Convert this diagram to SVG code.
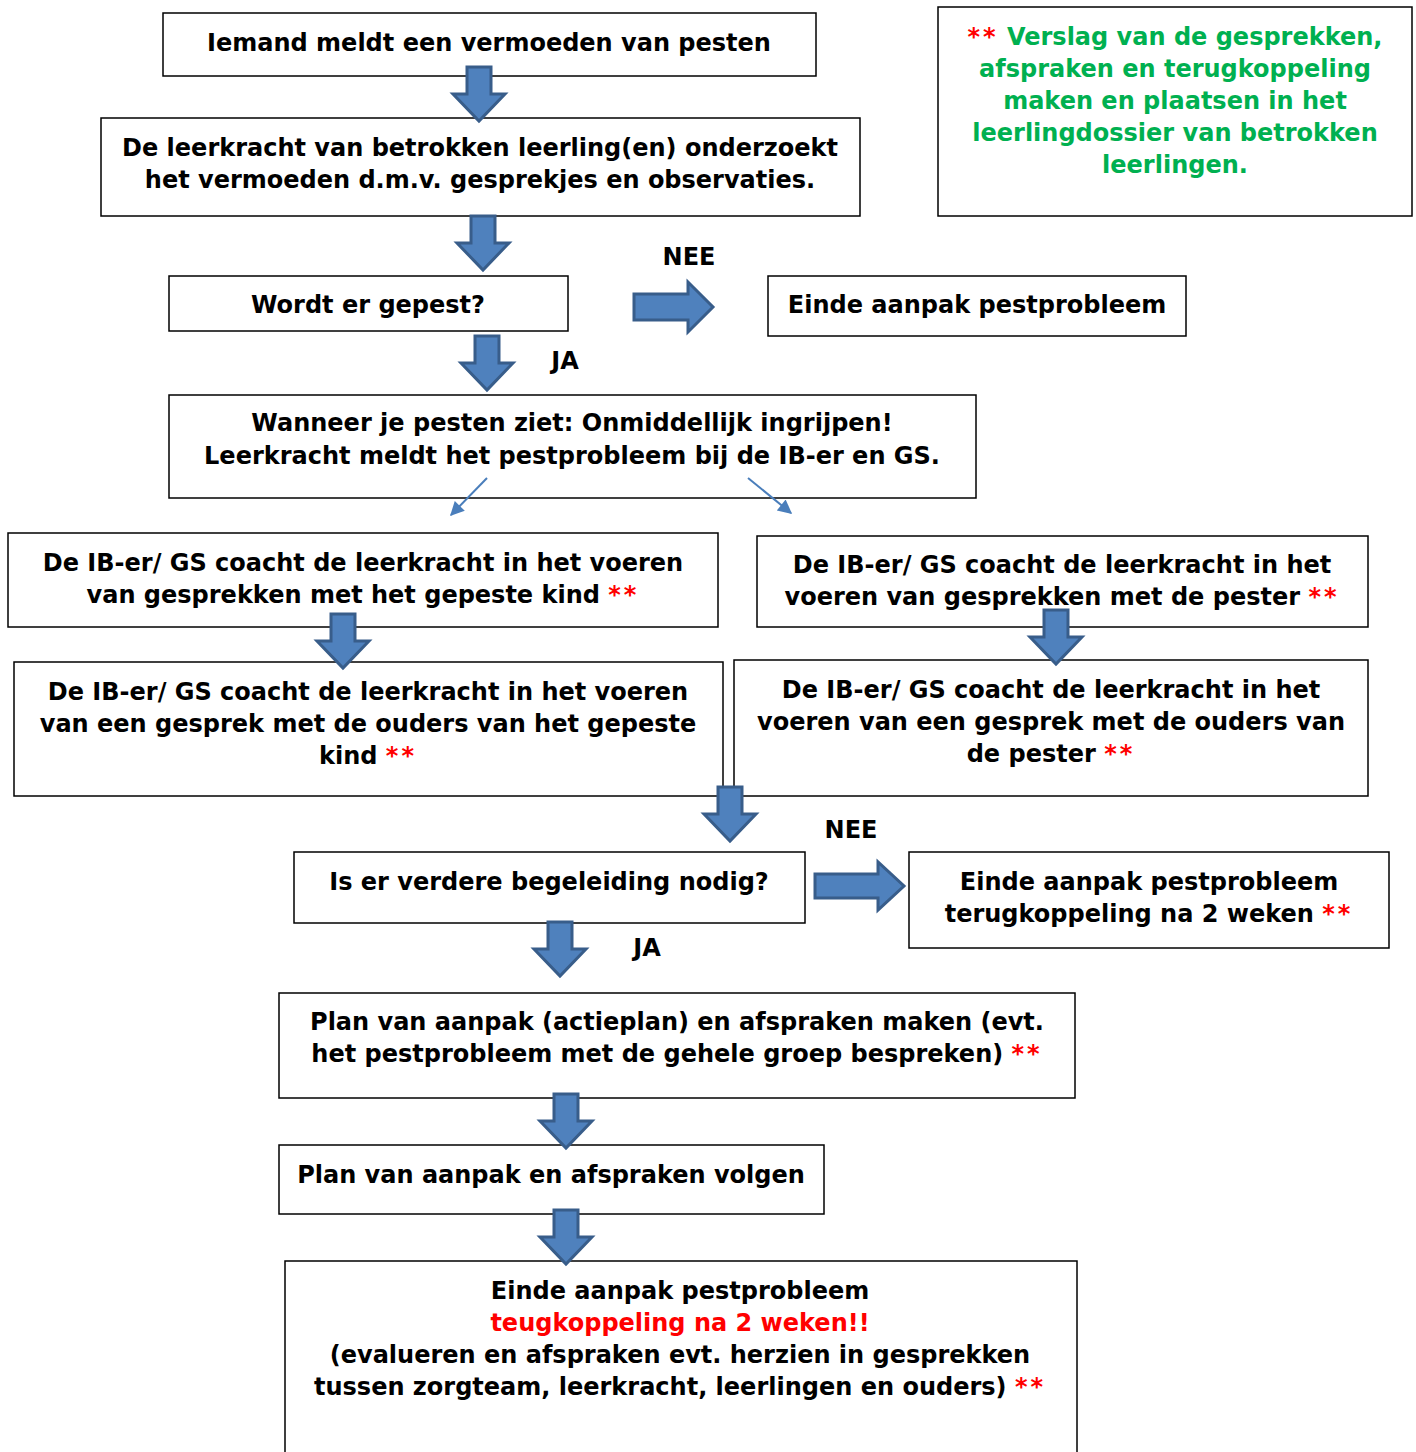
<svg xmlns="http://www.w3.org/2000/svg" xmlns:xlink="http://www.w3.org/1999/xlink" width="1416" height="1452" viewBox="0 0 1416 1452">
<style>
.box{fill:#fff;stroke:#000;stroke-width:1.5}
text{font-family:"DejaVu Sans","Verdana",sans-serif;font-weight:bold;font-size:24px;fill:#000;text-anchor:middle}
.r{fill:#FF0000}
.s{letter-spacing:3px}
.g{fill:#00B050}
.blk{fill:#4F81BD;stroke:#385D8A;stroke-width:3;stroke-linejoin:miter}
.thin{stroke:#4A7EBB;stroke-width:2;fill:none}
</style>
<defs>
<path id="dn" d="M-12,0 H12 V27 H26 L0,54 L-26,27 H-12 Z"/>
<marker id="ah" viewBox="0 0 10 10" refX="9" refY="5" markerWidth="8" markerHeight="7" orient="auto" markerUnits="strokeWidth">
<path d="M0,0 L10,5 L0,10 Z" fill="#4A7EBB"/>
</marker>
</defs>
<rect width="1416" height="1452" fill="#fff"/>

<g id="nodes">
<g id="n1"><rect class="box" x="163" y="13" width="653" height="63"/>
<text x="489" y="51">Iemand meldt een vermoeden van pesten</text></g>

<g id="note"><rect class="box" x="938" y="7" width="474" height="209"/>
<text x="1175" y="45"><tspan class="r s">**</tspan><tspan class="g"> Verslag van de gesprekken,</tspan></text>
<text class="g" x="1175" y="77">afspraken en terugkoppeling</text>
<text class="g" x="1175" y="109">maken en plaatsen in het</text>
<text class="g" x="1175" y="141">leerlingdossier van betrokken</text>
<text class="g" x="1175" y="173">leerlingen.</text></g>

<g id="n2"><rect class="box" x="101" y="118" width="759" height="98"/>
<text x="480" y="156">De leerkracht van betrokken leerling(en) onderzoekt</text>
<text x="480" y="188">het vermoeden d.m.v. gesprekjes en observaties.</text></g>

<g id="n3"><rect class="box" x="169" y="276" width="399" height="55"/>
<text x="368" y="313">Wordt er gepest?</text></g>

<g id="n4"><rect class="box" x="768" y="276" width="418" height="60"/>
<text x="977" y="313">Einde aanpak pestprobleem</text></g>

<g id="n5"><rect class="box" x="169" y="395" width="807" height="103"/>
<text x="572" y="431">Wanneer je pesten ziet: Onmiddellijk ingrijpen!</text>
<text x="572" y="464">Leerkracht meldt het pestprobleem bij de IB-er en GS.</text></g>

<g id="n6"><rect class="box" x="8" y="533" width="710" height="94"/>
<text x="363" y="571">De IB-er/ GS coacht de leerkracht in het voeren</text>
<text x="363" y="603">van gesprekken met het gepeste kind <tspan class="r s">**</tspan></text></g>

<g id="n7"><rect class="box" x="757" y="536" width="611" height="91"/>
<text x="1062" y="573">De IB-er/ GS coacht de leerkracht in het</text>
<text x="1062" y="605">voeren van gesprekken met de pester <tspan class="r s">**</tspan></text></g>

<g id="n8"><rect class="box" x="14" y="662" width="709" height="134"/>
<text x="368" y="700">De IB-er/ GS coacht de leerkracht in het voeren</text>
<text x="368" y="732">van een gesprek met de ouders van het gepeste</text>
<text x="368" y="764">kind <tspan class="r s">**</tspan></text></g>

<g id="n9"><rect class="box" x="734" y="660" width="634" height="136"/>
<text x="1051" y="698">De IB-er/ GS coacht de leerkracht in het</text>
<text x="1051" y="730">voeren van een gesprek met de ouders van</text>
<text x="1051" y="762">de pester <tspan class="r s">**</tspan></text></g>

<g id="n10"><rect class="box" x="294" y="852" width="511" height="71"/>
<text x="549" y="890">Is er verdere begeleiding nodig?</text></g>

<g id="n11"><rect class="box" x="909" y="852" width="480" height="96"/>
<text x="1149" y="890">Einde aanpak pestprobleem</text>
<text x="1149" y="922">terugkoppeling na 2 weken <tspan class="r s">**</tspan></text></g>

<g id="n12"><rect class="box" x="279" y="993" width="796" height="105"/>
<text x="677" y="1030">Plan van aanpak (actieplan) en afspraken maken (evt.</text>
<text x="677" y="1062">het pestprobleem met de gehele groep bespreken) <tspan class="r s">**</tspan></text></g>

<g id="n13"><rect class="box" x="279" y="1145" width="545" height="69"/>
<text x="551" y="1183">Plan van aanpak en afspraken volgen</text></g>

<g id="n14"><rect class="box" x="285" y="1261" width="792" height="220"/>
<text x="680" y="1299">Einde aanpak pestprobleem</text>
<text class="r" x="680" y="1331">teugkoppeling na 2 weken!!</text>
<text x="680" y="1363">(evalueren en afspraken evt. herzien in gesprekken</text>
<text x="680" y="1395">tussen zorgteam, leerkracht, leerlingen en ouders) <tspan class="r s">**</tspan></text></g>
</g>

<g id="connectors">
<use xlink:href="#dn" class="blk" x="479" y="67"/>
<use xlink:href="#dn" class="blk" x="483" y="216"/>
<use xlink:href="#dn" class="blk" x="487" y="336"/>
<use xlink:href="#dn" class="blk" x="343" y="614"/>
<use xlink:href="#dn" class="blk" x="1056" y="610"/>
<use xlink:href="#dn" class="blk" x="730" y="787"/>
<use xlink:href="#dn" class="blk" x="560" y="922"/>
<use xlink:href="#dn" class="blk" x="566" y="1094"/>
<use xlink:href="#dn" class="blk" x="566" y="1210"/>
<path class="blk" d="M634,294 H688 V282 L713,307 L688,332 V320 H634 Z"/>
<path class="blk" d="M815,874 H878 V862 L904,886 L878,910 V898 H815 Z"/>
<line class="thin" x1="487" y1="478" x2="451" y2="515" marker-end="url(#ah)"/>
<line class="thin" x1="748" y1="478" x2="791" y2="513" marker-end="url(#ah)"/>
<text x="689" y="265">NEE</text>
<text x="565" y="369">JA</text>
<text x="851" y="838">NEE</text>
<text x="647" y="956">JA</text>
</g>
</svg>
